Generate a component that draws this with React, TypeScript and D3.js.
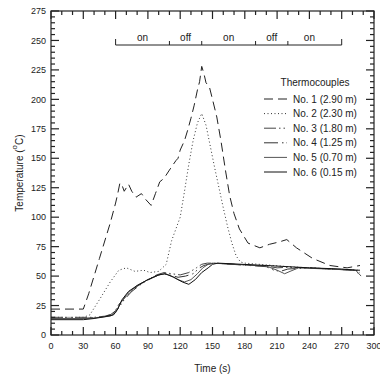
import React from 'react';
import * as d3 from 'd3';

const width = 380;
const height = 376;
const margin = { top: 11, right: 6, bottom: 41, left: 51 };

type Pt = [number, number];

// temperature histories, [time s, temperature C]
const tc1: Pt[] = [[0, 22], [30, 22], [35, 35], [45, 65], [55, 95], [60, 112], [62, 120], [64, 129], [66, 127], [68, 122], [70, 125], [72, 128], [75, 122], [79, 117], [84, 120], [88, 115], [93, 110], [97, 120], [101, 130], [105, 133], [110, 140], [113, 144], [116, 148], [118, 150], [120, 157], [124, 165], [127, 174], [130, 184], [133, 195], [136, 208], [138, 215], [140, 228], [142, 222], [144, 214], [147, 211], [150, 200], [154, 185], [158, 164], [162, 140], [166, 118], [170, 103], [175, 90], [183, 78], [194, 74], [203, 77], [212, 79], [219, 81], [228, 74], [243, 65], [259, 59], [275, 57], [287, 59]];
const tc2: Pt[] = [[0, 15], [30, 15], [36, 17], [45, 30], [55, 45], [63, 55], [70, 57], [78, 54], [86, 55], [92, 53], [100, 54], [107, 60], [112, 80], [116, 90], [120, 100], [124, 122], [128, 145], [132, 165], [136, 180], [140, 188], [144, 178], [148, 160], [152, 142], [156, 125], [160, 108], [164, 92], [168, 78], [172, 67], [176, 62], [180, 61], [220, 58], [260, 56], [287, 55]];
const tc3: Pt[] = [[0, 15], [20, 15], [40, 15], [50, 16], [58, 18], [63, 26], [70, 33], [78, 40], [88, 46], [98, 51], [105, 53], [112, 52], [120, 51], [128, 53], [135, 57], [140, 60], [145, 61], [150, 61], [200, 58.5], [210, 57], [220, 57.5], [240, 57], [270, 55.5], [282, 55], [287, 51]];
const tc4: Pt[] = [[0, 14], [30, 14], [45, 15], [55, 17], [62, 22], [68, 30], [75, 37], [85, 44], [95, 49], [103, 52], [110, 51], [118, 49], [125, 50], [132, 52], [138, 57], [142, 59], [146, 60], [152, 61], [200, 58], [207, 55], [213, 54], [220, 56], [240, 57], [270, 55.5], [283, 55], [287, 53]];
const tc5: Pt[] = [[0, 14], [30, 14], [40, 14.5], [55, 16], [60, 19], [65, 28], [72, 36], [80, 42], [90, 47], [100, 51], [106, 52], [112, 50], [118, 47], [124, 45], [130, 47], [136, 52], [141, 57], [146, 60], [150, 61], [200, 58.5], [210, 55], [217, 52], [222, 54], [230, 57], [270, 55.5], [283, 55], [288, 50]];
const tc6: Pt[] = [[0, 13], [30, 13], [40, 14], [50, 15.5], [58, 17], [62, 22], [66, 30], [72, 37], [80, 42], [90, 47], [100, 51], [106, 52], [114, 49], [122, 45], [128, 43], [134, 47], [140, 53], [146, 57], [150, 60], [155, 61], [200, 59], [240, 57], [270, 56], [283, 55], [287, 55]];

const seriesNames = ['No. 1 (2.90 m)', 'No. 2 (2.30 m)', 'No. 3 (1.80 m)', 'No. 4 (1.25 m)', 'No. 5 (0.70 m)', 'No. 6 (0.15 m)'];
const seriesData = [tc1, tc2, tc3, tc4, tc5, tc6];
const seriesDash = ['9,5', '1,2.5', '12,3,1.5,3,1.5,3', '14,4,1.5,3,1.5,4', 'none', 'none'];
const seriesColor = ['#222', '#333', '#444', '#333', '#555', '#111'];

// burner on/off phases
const phaseEdges = [60, 110, 140, 190, 220, 270];
const phaseLabels = ['on', 'off', 'on', 'off', 'on'];
const phaseLabelTimes = [85, 125, 165, 205, 240];

const xTicks = d3.range(0, 301, 30);
const xMinor = d3.range(0, 301, 10);
const yTicks = d3.range(0, 276, 25);
const yMinor = d3.range(0, 276, 5);

const font = '"Liberation Sans", Arial, sans-serif';

export default function App() {
    const x = d3.scaleLinear().domain([0, 300]).range([margin.left, width - margin.right]);
    const y = d3.scaleLinear().domain([0, 275]).range([height - margin.bottom, margin.top]);
    const x0 = x(0), x1 = x(300), y0 = y(0), y1 = y(275);

    const line = d3.line<Pt>().x(d => x(d[0])).y(d => y(d[1]));

    const barY = 45;
    const legendX = 264;
    const legendY = 99;
    const legendStep = 14.6;

    return (
        <svg width={width} height={height} style={{ position: 'absolute', left: 0, top: 0, background: '#fff' }} fontFamily={font}>
            {seriesData.map((d, i) => (
                <path key={i} d={line(d) || ''} fill="none" stroke={seriesColor[i]} strokeWidth={1}
                    strokeDasharray={seriesDash[i]} />
            ))}

            {/* frame and inward ticks on all four sides */}
            <rect x={x0} y={y1} width={x1 - x0} height={y0 - y1} fill="none" stroke="#222" strokeWidth={1.2} />
            {xMinor.map(t => {
                const len = t % 30 === 0 ? 8 : 4;
                return (
                    <g key={'x' + t} stroke="#222" strokeWidth={1.2}>
                        <line x1={x(t)} x2={x(t)} y1={y0} y2={y0 - len} />
                        <line x1={x(t)} x2={x(t)} y1={y1} y2={y1 + len} />
                    </g>
                );
            })}
            {yMinor.map(v => {
                const len = v % 25 === 0 ? 8 : 4;
                return (
                    <g key={'y' + v} stroke="#222" strokeWidth={1.2}>
                        <line x1={x0} x2={x0 + len} y1={y(v)} y2={y(v)} />
                        <line x1={x1} x2={x1 - len} y1={y(v)} y2={y(v)} />
                    </g>
                );
            })}
            {xTicks.map(t => (
                <text key={'xl' + t} x={x(t)} y={y0 + 14} fontSize={9} textAnchor="middle" fill="#222">{t}</text>
            ))}
            {yTicks.map(v => (
                <text key={'yl' + v} x={x0 - 5} y={y(v) + 3.2} fontSize={9} textAnchor="end" fill="#222">{v}</text>
            ))}

            <text x={(x0 + x1) / 2} y={372} fontSize={10} textAnchor="middle" fill="#222">Time (s)</text>
            <text transform={`translate(23, ${(y0 + y1) / 2}) rotate(-90)`} fontSize={10} textAnchor="middle" fill="#222">
                Temperature (<tspan dy={-6} fontSize={8}>o</tspan><tspan dy={6}>C)</tspan>
            </text>

            {/* on/off bar */}
            <line x1={x(phaseEdges[0])} x2={x(phaseEdges[phaseEdges.length - 1])} y1={barY} y2={barY} stroke="#222" strokeWidth={1} />
            {phaseEdges.map((t, i) => {
                const end = i === 0 || i === phaseEdges.length - 1;
                return <line key={'pe' + t} x1={x(t)} x2={x(t)} y1={barY} y2={barY - (end ? 6 : 4)} stroke="#222" strokeWidth={1} />;
            })}
            {phaseLabels.map((s, i) => (
                <text key={'pl' + i} x={x(phaseLabelTimes[i])} y={barY - 4} fontSize={10} textAnchor="middle" fill="#222">{s}</text>
            ))}

            {/* legend */}
            <text x={315} y={86} fontSize={10} textAnchor="middle" fill="#222">Thermocouples</text>
            {seriesNames.map((name, i) => (
                <g key={name} transform={`translate(0, ${legendY + i * legendStep})`}>
                    <line x1={legendX} x2={legendX + 23} y1={0} y2={0} stroke={seriesColor[i]} strokeWidth={1}
                        strokeDasharray={seriesDash[i]} />
                    <text x={legendX + 29} y={3.5} fontSize={10} fill="#222">{name}</text>
                </g>
            ))}
        </svg>
    );
}
